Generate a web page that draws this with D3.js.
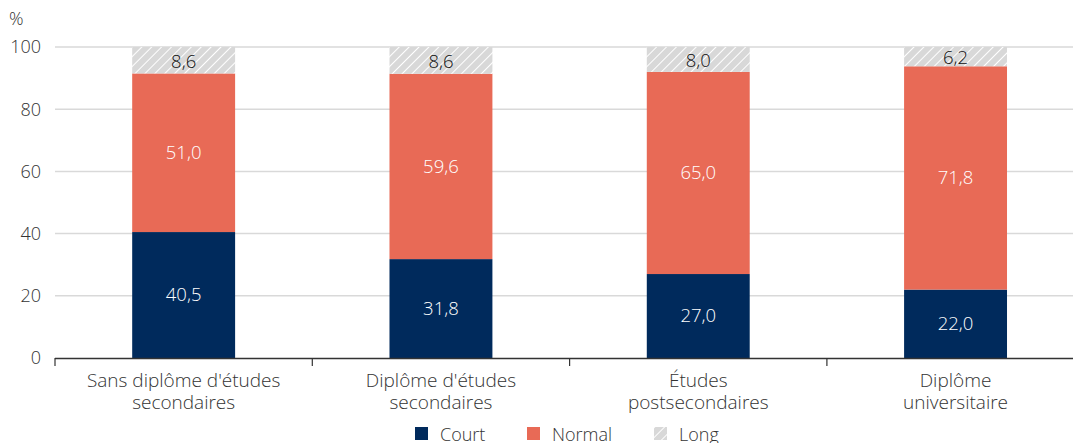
<!DOCTYPE html>
<html><head><meta charset="utf-8">
<script src="https://cdn.jsdelivr.net/npm/d3@7"></script>
<style>body{margin:0;background:#fff;}svg{display:block;font-family:"Open Sans",sans-serif;font-weight:300;}</style>
</head><body><svg id="c" width="1073" height="443"></svg>
<script>
const categories = [["Sans diplôme d'études","secondaires"],["Diplôme d'études","secondaires"],["Études","postsecondaires"],["Diplôme","universitaire"]];
const court = [40.5, 31.8, 27.0, 22.0];
const normal = [51.0, 59.6, 65.0, 71.8];
const long = [8.6, 8.6, 8.0, 6.2];
const seriesNames = ["Court","Normal","Long"];
const yTicks = [0,20,40,60,80,100];

const svg = d3.select("#c");
const x0 = 55, step = 257.3;
const x = d3.scaleBand().domain(d3.range(4)).range([x0, x0 + 4*step]).paddingInner(0.6).paddingOuter(0.3);
const y = d3.scaleLinear().domain([0,100]).range([358, 47]);

const defs = svg.append("defs");
const pat = defs.append("pattern").attr("id","hatch").attr("patternUnits","userSpaceOnUse")
  .attr("width",7).attr("height",7).attr("patternTransform","rotate(45)");
pat.append("rect").attr("width",7).attr("height",7).attr("fill","#d8d8d8");
pat.append("line").attr("x1",0).attr("y1",0).attr("x2",0).attr("y2",7).attr("stroke","#ffffff").attr("stroke-width",2);

// grid
svg.append("g").selectAll("line").data(yTicks.filter(d=>d>0)).join("line")
  .attr("x1", x0).attr("x2", 1073).attr("y1", d=>y(d)).attr("y2", d=>y(d))
  .attr("stroke","#d9d9d9").attr("stroke-width",1.5);

// y labels
svg.append("g").selectAll("text").data(yTicks).join("text")
  .attr("x", 41).attr("y", d=>y(d)).attr("dy","0.35em").attr("text-anchor","end")
  .attr("font-size",18).attr("fill","#333").text(d=>d);
svg.append("text").attr("x",9).attr("y",25).attr("font-size",18).attr("fill","#333").text("%");

const colors = ["#002a5c","#e86a56","url(#hatch)"];
const data = [court, normal, long];
const stack = d3.range(4).map(i => {
  let acc = 0;
  return data.map((s,k)=>{ const o={i,k,v:s[i],y0:acc,y1:acc+s[i]}; acc+=s[i]; return o; });
}).flat();

svg.append("g").selectAll("rect").data(stack).join("rect")
  .attr("x", d=>x(d.i)).attr("width", x.bandwidth())
  .attr("y", d=>y(Math.min(d.y1,100))).attr("height", d=>y(d.y0)-y(Math.min(d.y1,100)))
  .attr("fill", d=>colors[d.k]);

const fmt = v => v.toFixed(1).replace(".",",");
svg.append("g").selectAll("text").data(stack).join("text")
  .attr("x", d=>x(d.i)+x.bandwidth()/2)
  .attr("y", d=>d.k===2 ? (y(Math.min(d.y1,100))+y(d.y0))/2 + 1 : (y(d.y0)+y(d.y1))/2)
  .attr("dy","0.35em").attr("text-anchor","middle").attr("font-size",18.5)
  .attr("fill", d=>d.k===2?"#111":"#fff").text(d=>fmt(d.v));

// x axis
svg.append("line").attr("x1",x0).attr("x2",1073).attr("y1",358.5).attr("y2",358.5).attr("stroke","#333").attr("stroke-width",1.5);
svg.append("g").selectAll("line").data(d3.range(4)).join("line")
  .attr("x1", d=>x0+d*step).attr("x2", d=>x0+d*step).attr("y1",358).attr("y2",366)
  .attr("stroke","#333").attr("stroke-width",1.2);
const xl = svg.append("g").selectAll("text").data(categories).join("text")
  .attr("x",(d,i)=>x(i)+x.bandwidth()/2).attr("y",387).attr("text-anchor","middle")
  .attr("font-size",19).attr("fill","#333");
xl.selectAll("tspan").data(d=>d).join("tspan")
  .attr("x", function(){return this.parentNode.getAttribute("x");})
  .attr("dy",(d,j)=>j===0?0:22).text(d=>d);

// legend
const legX = [415, 527, 654];
const lg = svg.append("g").selectAll("g").data(seriesNames).join("g")
  .attr("transform",(d,i)=>`translate(${legX[i]},427)`);
lg.append("rect").attr("width",13).attr("height",13).attr("fill",(d,i)=>colors[i]);
lg.append("text").attr("x",25).attr("y",14).attr("font-size",18).attr("fill","#333").text(d=>d);
</script></body></html>
